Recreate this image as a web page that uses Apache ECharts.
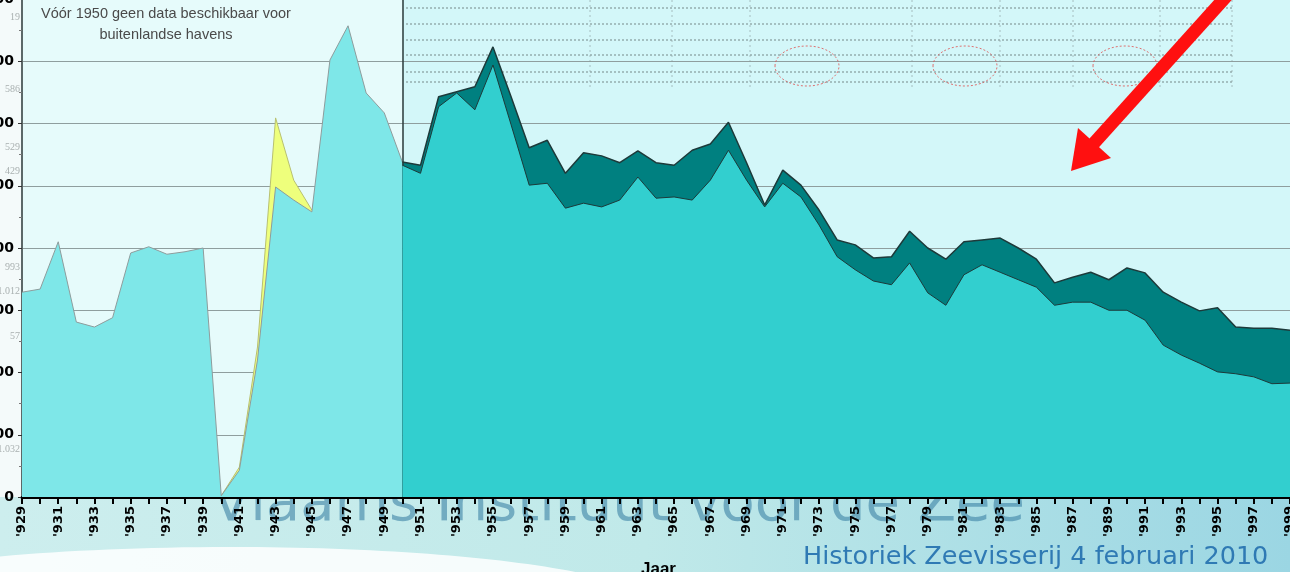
<!DOCTYPE html>
<html>
<head>
<meta charset="utf-8">
<script src="https://cdn.jsdelivr.net/npm/echarts@6/dist/echarts.min.js"></script>
<style>
  html, body { margin: 0; padding: 0; background: #ffffff; }
  #chart { width: 1290px; height: 572px; }
</style>
</head>
<body>
<div id="chart"></div>
<script>
// --------------------------------------------------------------
// Data (y in axis units, one gridline = 100)
// --------------------------------------------------------------

const years = [
  1929, 1930, 1931, 1932, 1933, 1934, 1935, 1936, 1937, 1938, 1939,
  1940, 1941, 1942, 1943, 1944, 1945, 1946, 1947, 1948, 1949, 1950,
  1951, 1952, 1953, 1954, 1955, 1956, 1957, 1958, 1959, 1960, 1961,
  1962, 1963, 1964, 1965, 1966, 1967, 1968, 1969, 1970, 1971, 1972,
  1973, 1974, 1975, 1976, 1977, 1978, 1979, 1980, 1981, 1982, 1983,
  1984, 1985, 1986, 1987, 1988, 1989, 1990, 1991, 1992, 1993, 1994,
  1995, 1996, 1997, 1998, 1999
];

// 1929-1950, Belgische havens (oude grafiek)
const earlyStart = 1929;
const earlyVals = [329, 334, 410, 281, 273, 288, 392, 402, 390, 394, 400,
  2, 43, 220, 498, 477, 458, 702, 757, 649, 617, 538];

// 1940-1945, gele strook bovenop
const warStart = 1940;
const warVals = [2, 48, 241, 609, 509, 461];

// 1950-1999: totaal (donker) en Belgische havens (turquoise)
const lateStart = 1950;
const totalVals = [538, 533, 643, 651, 659, 723, 643, 561, 573, 520,
  553, 548, 537, 556, 537, 533, 557, 567, 602, 537,
  469, 525, 501, 461, 413, 405, 384, 386, 427, 400,
  382, 410, 413, 416, 400, 382, 344, 353, 361, 349,
  368, 360, 329, 313, 299, 304, 273, 271, 271, 268];
const baseVals = [533, 520, 627, 649, 622, 694, 598, 501, 504, 464,
  472, 466, 477, 514, 480, 482, 477, 509, 557, 509,
  466, 504, 482, 437, 386, 365, 347, 341, 376, 328,
  308, 357, 373, 361, 349, 337, 308, 313, 313, 300,
  300, 284, 244, 228, 215, 201, 198, 193, 182, 183];

const yMax = 800;
const yStep = 100;

// --------------------------------------------------------------
// Helpers
// --------------------------------------------------------------

function padToYears(start, vals) {
  return years.map((y) => {
    const i = y - start;
    return i >= 0 && i < vals.length ? vals[i] : null;
  });
}

function yearLabel(v) {
  return "'" + String(v).slice(1);
}

// --------------------------------------------------------------
// Decoration (background table, arrow, watermark)
// --------------------------------------------------------------

const tableRowsY = [8, 24, 40, 55, 72, 82];
const tableColsX = [590, 672, 750, 912, 1000, 1073, 1160, 1232];
const circles = [[807, 66], [965, 66], [1125, 66]];
const sideNotes = [["19", 18], ["586", 90], ["529", 148], ["429", 172],
  ["993", 268], ["1.012", 292], ["57", 337], ["1.032", 450]];

function buildGraphic() {
  const g = [];
  // band under the plot
  g.push({
    type: "rect", z: -10, silent: true,
    shape: {x: 0, y: 497, width: 1290, height: 75},
    style: {
      fill: new echarts.graphic.LinearGradient(0, 0, 1, 0, [
        {offset: 0, color: "#cdeeee"},
        {offset: 0.5, color: "#c0e9e9"},
        {offset: 1, color: "#9bd6e3"},
      ]),
    },
  });
  g.push({
    type: "ellipse", z: -9, silent: true,
    shape: {cx: 230, cy: 605, rx: 420, ry: 58},
    style: {fill: "rgba(255,255,255,0.85)"},
  });
  g.push({
    type: "text", z: -5, silent: true, left: 212, top: 477,
    style: {
      text: "Vlaams Instituut voor de Zee",
      font: "56px 'DejaVu Sans', sans-serif",
      fill: "rgba(60,130,165,0.6)",
    },
  });
  // left strip behind axis labels
  g.push({
    type: "rect", z: -10, silent: true,
    shape: {x: 0, y: 0, width: 22, height: 497},
    style: {fill: "#f4fafa"},
  });
  sideNotes.forEach(([t, y]) => {
    g.push({
      type: "text", z: -4, silent: true, x: 20, y: y - 6,
      style: {text: t, font: "10px 'Liberation Serif', serif", fill: "#a9b0b0", align: "right"},
    });
  });
  // faint background table in the upper right part of the plot
  tableRowsY.forEach((y) => {
    g.push({
      type: "line", z: 1, silent: true,
      shape: {x1: 406, y1: y, x2: 1232, y2: y},
      style: {stroke: "#5f6f6f", lineWidth: 1, lineDash: [2, 2], opacity: 0.8},
    });
  });
  tableColsX.forEach((x) => {
    g.push({
      type: "line", z: 1, silent: true,
      shape: {x1: x, y1: 0, x2: x, y2: 90},
      style: {stroke: "#8a9a9a", lineWidth: 1, lineDash: [2, 3], opacity: 0.6},
    });
  });
  circles.forEach(([cx, cy]) => {
    g.push({
      type: "ellipse", z: 1, silent: true,
      shape: {cx: cx, cy: cy, rx: 32, ry: 20},
      style: {fill: "none", stroke: "#e05050", lineWidth: 1, lineDash: [2, 2], opacity: 0.8},
    });
  });
  // note top left
  g.push({
    type: "text", z: 5, silent: true, x: 166, y: 3,
    style: {
      text: "Vóór 1950 geen data beschikbaar voor\nbuitenlandse havens",
      font: "14.5px 'Liberation Sans', Arial, sans-serif",
      fill: "#4a4a4a", align: "center", verticalAlign: "top", lineHeight: 21,
    },
  });
  // red arrow
  g.push({
    type: "line", z: 10, silent: true,
    shape: {x1: 1232, y1: -10, x2: 1086, y2: 152},
    style: {stroke: "#ff1010", lineWidth: 13},
  });
  g.push({
    type: "polygon", z: 10, silent: true,
    shape: {points: [[1071, 171], [1078, 128], [1111, 158]]},
    style: {fill: "#ff1010"},
  });
  // footer texts
  g.push({
    type: "text", z: 10, silent: true, left: 641, top: 561,
    style: {text: "Jaar", font: "bold 17px 'Liberation Sans', Arial, sans-serif", fill: "#000"},
  });
  g.push({
    type: "text", z: 10, silent: true, left: 803, top: 544,
    style: {
      text: "Historiek Zeevisserij 4 februari 2010",
      font: "25.5px 'DejaVu Sans', Verdana, sans-serif",
      fill: "#2f7ab4",
    },
  });
  return g;
}

// --------------------------------------------------------------
// Chart
// --------------------------------------------------------------

const chart = echarts.init(document.getElementById("chart"), null, {renderer: "canvas"});

const option = {
  animation: false,
  backgroundColor: "transparent",
  grid: {left: 22, right: 0, top: -1, bottom: 75, containLabel: false, outerBoundsMode: "none"},
  xAxis: {
    type: "category",
    data: years.map(String),
    boundaryGap: false,
    axisLine: {show: true, lineStyle: {color: "#000", width: 3}},
    axisTick: {show: true, interval: 0, length: 7, lineStyle: {color: "#000", width: 2}},
    axisLabel: {
      interval: 1,
      rotate: 90,
      margin: 9,
      color: "#000",
      fontWeight: "bold",
      fontSize: 13,
      fontFamily: "'DejaVu Sans', sans-serif",
      formatter: yearLabel,
    },
    splitLine: {show: false},
  },
  yAxis: {
    type: "value",
    min: 0,
    max: yMax,
    interval: yStep,
    axisLine: {show: true, lineStyle: {color: "#5b6868", width: 2}},
    axisTick: {show: true, length: 4, lineStyle: {color: "#333", width: 1}},
    minorTick: {show: true, splitNumber: 2, length: 3, lineStyle: {color: "#777"}},
    axisLabel: {
      margin: 8,
      color: "#000",
      fontWeight: "bold",
      fontSize: 14,
      fontFamily: "'DejaVu Sans', sans-serif",
    },
    splitLine: {show: true, lineStyle: {color: "#8f9e9e", width: 1}},
  },
  graphic: buildGraphic(),
  series: [
    {
      // plot backgrounds for the two pasted parts
      name: "bg",
      type: "line",
      data: [],
      z: -3,
      silent: true,
      markArea: {
        silent: true,
        z: -3,
        data: [
          [{xAxis: "1929", itemStyle: {color: "#e6fbfb"}}, {xAxis: "1950"}],
          [{xAxis: "1950", itemStyle: {color: "#d3f7f9"}}, {xAxis: "1999"}],
        ],
      },
    },
    {
      name: "geel",
      type: "line",
      data: padToYears(warStart, warVals),
      symbol: "none",
      z: 2,
      lineStyle: {color: "#b8c070", width: 1},
      areaStyle: {color: "#eeff7c", opacity: 1},
    },
    {
      name: "Belgische havens (voor 1950)",
      type: "line",
      data: padToYears(earlyStart, earlyVals),
      symbol: "none",
      z: 3,
      lineStyle: {color: "#8e9c9c", width: 1},
      areaStyle: {color: "#7ee7e8", opacity: 1},
    },
    {
      name: "Buitenlandse havens",
      type: "line",
      data: padToYears(lateStart, totalVals),
      symbol: "none",
      z: 4,
      lineStyle: {color: "#1d3a3a", width: 1.5},
      areaStyle: {color: "#008080", opacity: 1},
    },
    {
      name: "Belgische havens",
      type: "line",
      data: padToYears(lateStart, baseVals),
      symbol: "none",
      z: 5,
      lineStyle: {color: "#1d3a3a", width: 1},
      areaStyle: {color: "#32cfcf", opacity: 1},
      markLine: {
        silent: true,
        symbol: "none",
        label: {show: false},
        lineStyle: {color: "#2a3a3a", width: 1.5, type: "solid"},
        data: [{xAxis: "1950"}],
      },
    },
  ],
};

chart.setOption(option);
</script>
</body>
</html>
